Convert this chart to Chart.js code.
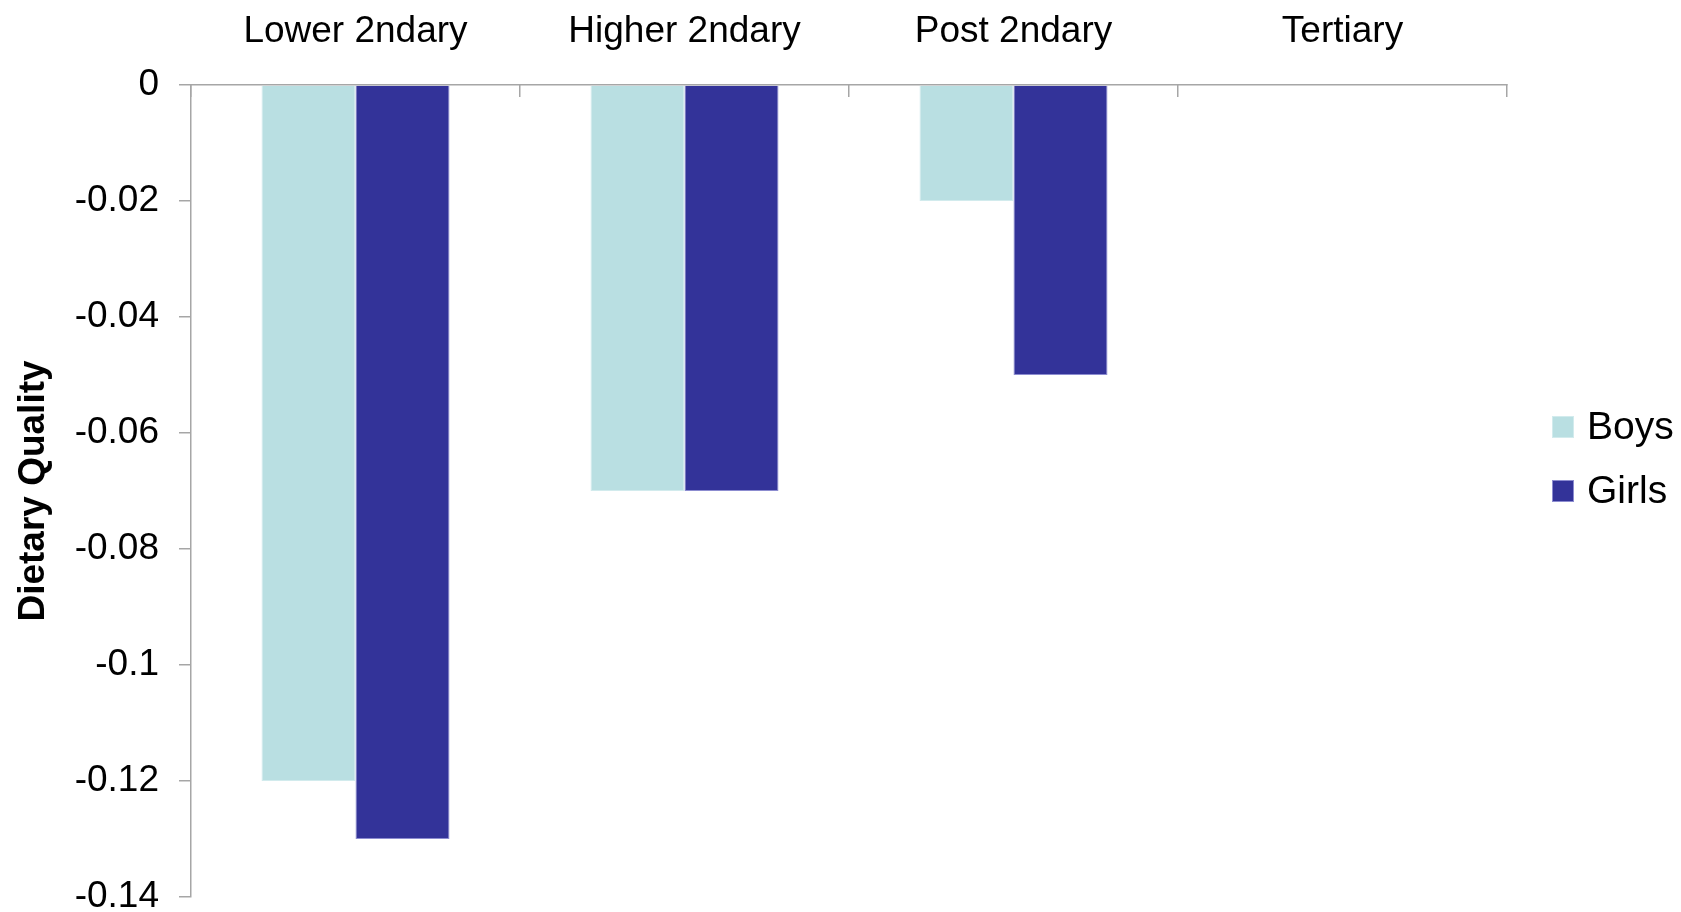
<!DOCTYPE html>
<html>
<head>
<meta charset="utf-8">
<script src="https://cdn.jsdelivr.net/npm/chart.js@4"></script>
<style>
  html, body { margin: 0; padding: 0; background: #fff; }
  #wrap { width: 1681px; height: 912px; }
</style>
</head>
<body>
<div id="wrap"><canvas id="dietChart" width="1681" height="912"></canvas></div>
<script>
const categories = ['Lower 2ndary', 'Higher 2ndary', 'Post 2ndary', 'Tertiary'];
const boys = [-0.12, -0.07, -0.02, null];
const girls = [-0.13, -0.07, -0.05, null];
const seriesNames = ['Boys', 'Girls'];
const yTicks = [0, -0.02, -0.04, -0.06, -0.08, -0.1, -0.12, -0.14];

const FONT = "'Liberation Sans', Arial, sans-serif";
const AXIS = '#a6a6a6';

// legend drawn by hand, it hangs past the plot on the right like the original
const sideLegend = {
  id: 'sideLegend',
  afterDraw(chart) {
    const ctx = chart.ctx;
    const area = chart.chartArea;
    ctx.save();
    ctx.font = '39px ' + FONT;
    ctx.textBaseline = 'middle';
    chart.data.datasets.forEach((ds, i) => {
      const x = area.right + 45;
      const y = area.top + 342 + i * 64;
      ctx.fillStyle = ds.backgroundColor;
      ctx.fillRect(x, y - 11, 22, 22);
      ctx.strokeStyle = ds.borderColor;
      ctx.lineWidth = 1;
      ctx.strokeRect(x + 0.5, y - 10.5, 21, 21);
      ctx.fillStyle = '#000';
      ctx.fillText(ds.label, x + 35, y + 1);
    });
    ctx.restore();
  }
};

const ctx = document.getElementById('dietChart').getContext('2d');

new Chart(ctx, {
  type: 'bar',
  data: {
    labels: categories,
    datasets: [
      {
        label: seriesNames[0],
        data: boys,
        backgroundColor: '#b9dfe2',
        borderColor: '#d2ebed',
        borderWidth: 1
      },
      {
        label: seriesNames[1],
        data: girls,
        backgroundColor: '#333399',
        borderColor: '#8c8cd0',
        borderWidth: 1
      }
    ]
  },
  options: {
    responsive: false,
    animation: false,
    layout: { padding: { left: 0, right: 174, top: 0, bottom: 15 } },
    datasets: {
      bar: { categoryPercentage: 2 / 3.5, barPercentage: 1 }
    },
    plugins: {
      legend: { display: false },
      tooltip: { enabled: false }
    },
    scales: {
      x: {
        position: 'top',
        grid: {
          offset: true,
          drawOnChartArea: false,
          tickLength: -12,
          color: AXIS,
          lineWidth: 1.5
        },
        border: { color: AXIS, width: 1.5 },
        ticks: {
          color: '#000',
          padding: 43,
          font: { family: FONT, size: 37 }
        },
        afterFit(scale) {
          scale.height = 85;
          scale.paddingLeft = 0;
          scale.paddingRight = 0;
        }
      },
      y: {
        min: -0.14,
        max: 0,
        afterBuildTicks(scale) {
          scale.ticks = yTicks.map(v => ({ value: v }));
        },
        grid: {
          drawOnChartArea: false,
          tickLength: 12,
          color: AXIS,
          lineWidth: 1.5
        },
        border: { color: AXIS, width: 1.5 },
        ticks: {
          color: '#000',
          padding: 20,
          font: { family: FONT, size: 37 },
          callback: v => String(Math.round(v * 100) / 100)
        },
        title: {
          display: true,
          text: 'Dietary Quality',
          color: '#000',
          padding: { top: 12, bottom: 0 },
          font: { family: FONT, size: 37, weight: 'bold' }
        },
        afterFit(scale) {
          scale.width = 191;
          scale.paddingTop = 0;
          scale.paddingBottom = 0;
        }
      }
    }
  },
  plugins: [sideLegend]
});
</script>
</body>
</html>
